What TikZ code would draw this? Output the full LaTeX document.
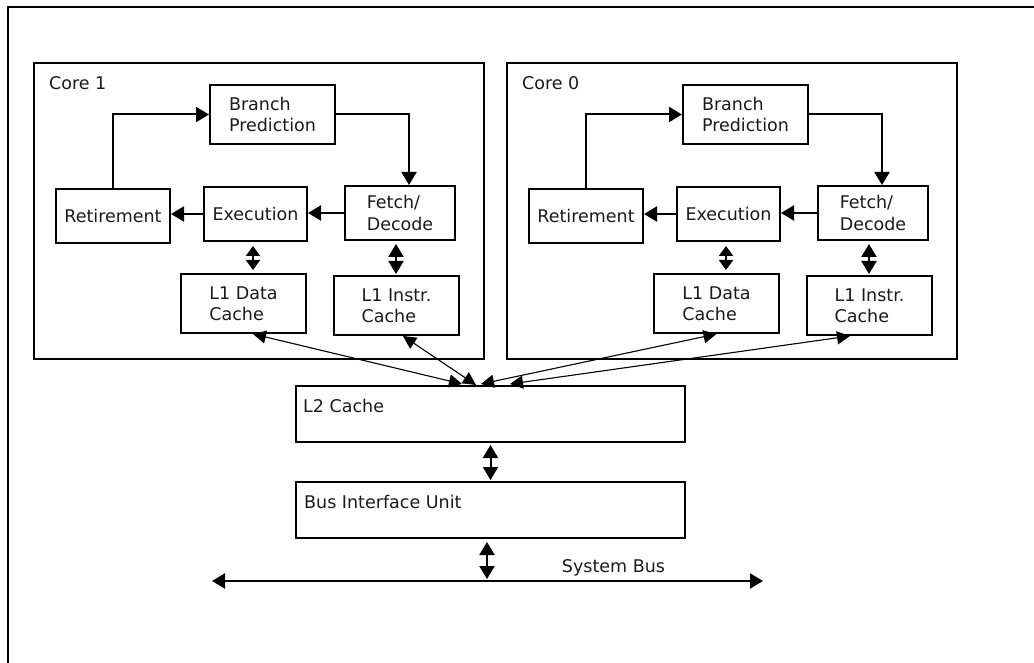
\documentclass[tikz,border=0pt]{standalone}
\usepackage{fontspec}
\setmainfont{DejaVu Sans}
\usepackage{tikz}
\usetikzlibrary{arrows.meta}
\definecolor{ink}{HTML}{1A1A1A}
\tikzset{
  frame/.style={draw=black, line width=2pt},
  blk/.style={draw=black, line width=2pt, align=left, text=ink, font=\fontsize{17.5}{21.5}\selectfont},
  lab/.style={text=ink, font=\fontsize{17.5}{21.5}\selectfont, inner sep=0pt},
  arr/.style={draw=black, line width=2pt, -{Triangle[length=13pt,width=15pt]}},
  both/.style={draw=black, line width=2pt, {Triangle[length=13pt,width=15pt]}-{Triangle[length=13pt,width=15pt]}},
  small/.style={draw=black, line width=2pt, {Triangle[length=10pt,width=14pt]}-{Triangle[length=10pt,width=14pt]}},
  thin/.style={draw=black, line width=1.1pt, {Triangle[length=13pt,width=13pt]}-{Triangle[length=13pt,width=13pt]}},
}

\begin{document}
\begin{tikzpicture}[x=1pt,y=-1pt]
  \useasboundingbox (0,0) rectangle (1034,663);
  \draw[frame] (8,663) |- (1034,7.5);
  % the two cores, same layout
  \foreach \c/\dx in {1/0,0/473}{
    \node[blk,minimum width=450pt,minimum height=296pt] (core\c) at ({259+\dx},211) {};
    \node[lab,anchor=west] (name\c) at ({49+\dx},83) {Core \c};
    \node[blk,minimum width=125pt,minimum height=59pt] (bp\c) at ({272.5+\dx},114.5) {Branch\\Prediction};
    \node[blk,minimum width=114pt,minimum height=54pt] (ret\c) at ({113+\dx},216) {Retirement};
    \node[blk,minimum width=103pt,minimum height=54pt] (exe\c) at ({255.5+\dx},214) {Execution};
    \node[blk,minimum width=110pt,minimum height=54pt] (fd\c) at ({400+\dx},213) {Fetch/\\Decode};
    \node[blk,minimum width=125pt,minimum height=59pt] (l1d\c) at ({243.5+\dx},303.5) {L1 Data\\Cache};
    \node[blk,minimum width=125pt,minimum height=59pt] (l1i\c) at ({396.5+\dx},305.5) {L1 Instr.\\Cache};
    \draw[arr] (ret\c.north) |- (bp\c.west);
    \draw[arr] (bp\c.east) -| ([xshift=9pt]fd\c.north);
    \draw[arr] (fd\c.west) -- (fd\c.west -| exe\c.east);
    \draw[arr] (exe\c.west) -- (exe\c.west -| ret\c.east);
    \draw[small,shorten <=4pt,shorten >=3pt] ([xshift=-2.5pt]exe\c.south) -- ([xshift=-2.5pt]exe\c.south |- l1d\c.north);
    \draw[both,shorten <=3pt,shorten >=1pt] ([xshift=-4pt]fd\c.south) -- ([xshift=-4pt]fd\c.south |- l1i\c.north);
  }
  \node[blk,minimum width=389pt,minimum height=56pt] (l2) at (490.5,414) {};
  \node[lab,anchor=west] (l2txt) at (303,406) {L2 Cache};
  \node[blk,minimum width=389pt,minimum height=56pt] (biu) at (490.5,510) {};
  \node[lab,anchor=west] (biutxt) at (304,502) {Bus Interface Unit};
  % L1 caches to L2
  \coordinate (in1) at (462,384);
  \coordinate (in2) at (476,385);
  \coordinate (in3) at (481,384);
  \coordinate (in4) at (510,384);
  \draw[thin] ([xshift=9.5pt]l1d1.south) -- (in1);
  \draw[thin] ([xshift=6.5pt]l1i1.south) -- (in2);
  \draw[thin] (l1d0.south) -- (in3);
  \draw[thin] ([xshift=-19.5pt]l1i0.south) -- (in4);
  \draw[both,shorten <=2pt,shorten >=1pt] (l2.south) -- (biu.north);
  % system bus
  \coordinate (busL) at (212,581);
  \coordinate (busR) at (763,581);
  \draw[both] (busL) -- (busR);
  \node[lab] (sysbus) at (613.5,568) {System Bus};
  \draw[both,shorten <=3pt,shorten >=2pt] ([xshift=-3.5pt]biu.south) -- ([xshift=-3.5pt]biu.south |- busL);
\end{tikzpicture}
\end{document}
